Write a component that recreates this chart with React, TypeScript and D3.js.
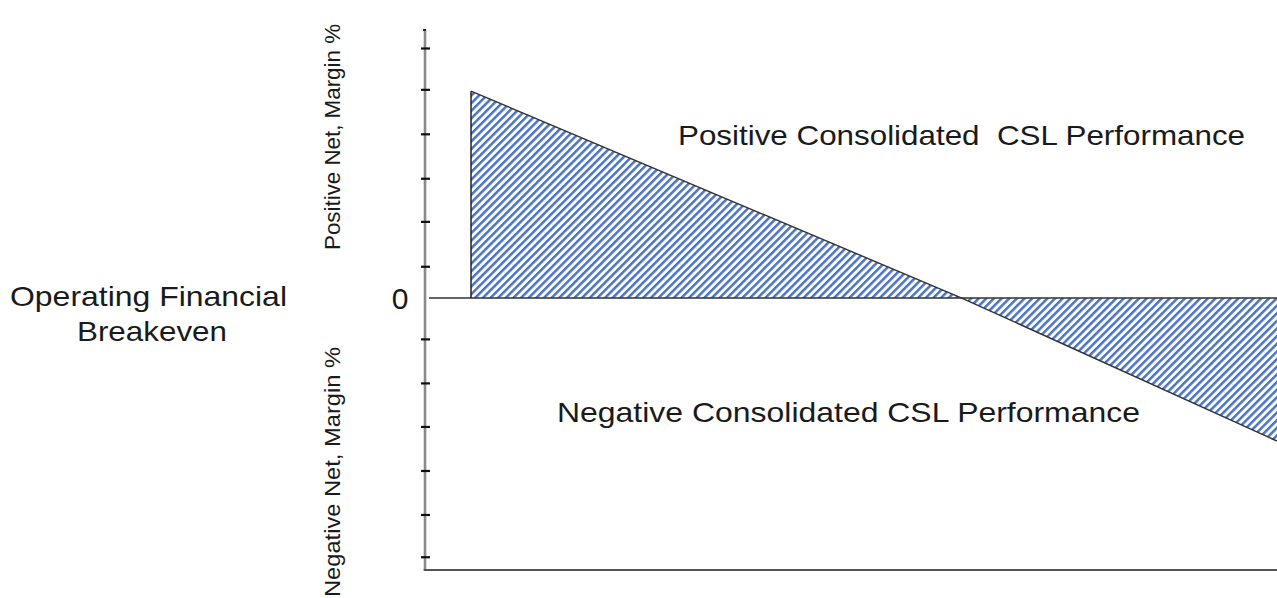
import React from "react";
import * as d3 from "d3";

// Profit margin line (x: volume %, y: net margin %)
const lineX = [5.4, 63.0, 100];
const lineY = [4.7, 0, -3.25];

// Y axis tick values (margin %)
const posTicks = [0.71, 1.73, 2.71, 3.72, 4.73, 5.67];
const negTicks = [-0.94, -1.94, -2.93, -3.93, -4.93, -5.89];
const zeroLabel = "0";

const labels = {
  positive: "Positive Consolidated  CSL Performance",
  negative: "Negative Consolidated CSL Performance",
  left1: "Operating Financial",
  left2: "Breakeven",
  yPos: "Positive Net, Margin %",
  yNeg: "Negative Net, Margin %",
};

const W = 1277;
const H = 598;
const FONT = "'Liberation Sans', Arial, sans-serif";

export default function App() {
  const x = d3.scaleLinear().domain([0, 100]).range([425, 1277]);
  const y = d3.scaleLinear().domain([-6.18, 6.09]).range([570, 30]);
  const pts = lineX.map((v, i) => ({ x: v, y: lineY[i] }));

  const area = d3
    .area<{ x: number; y: number }>()
    .x((d) => x(d.x))
    .y0(y(0))
    .y1((d) => y(d.y));
  const line = d3
    .line<{ x: number; y: number }>()
    .x((d) => x(d.x))
    .y((d) => y(d.y));

  const textColor = "#1a1a1a";
  const pre = { whiteSpace: "pre" as const };

  return (
    <div>
      <svg
        width={W}
        height={H}
        style={{ position: "absolute", left: 0, top: 0, background: "#fff" }}
        fontFamily={FONT}
      >
        <defs>
          <pattern
            id="hatch"
            patternUnits="userSpaceOnUse"
            width={5.4}
            height={5.4}
            patternTransform="rotate(45)"
          >
            <rect x={0} y={0} width={5.4} height={5.4} fill="#fff" />
            <rect x={0} y={0} width={2.5} height={5.4} fill="#4a74c4" />
          </pattern>
        </defs>

        {/* hatched area */}
        <path d={area(pts) || ""} fill="url(#hatch)" />

        {/* zero line */}
        <line x1={x(0) + 4} x2={W} y1={y(0)} y2={y(0)} stroke="#333" strokeWidth={1.6} />

        {/* outline of margin line */}
        <line
          x1={x(lineX[0])}
          x2={x(lineX[0])}
          y1={y(0)}
          y2={y(lineY[0])}
          stroke="#222"
          strokeWidth={1.5}
        />
        <path d={line(pts) || ""} fill="none" stroke="#333" strokeWidth={1.4} />

        {/* y axis */}
        <line x1={x(0)} x2={x(0)} y1={y(6.09)} y2={570} stroke="#8a8a8a" strokeWidth={2.6} />
        <line x1={x(0) - 2} x2={x(0) + 1} y1={y(6.09)} y2={y(6.09)} stroke="#222" strokeWidth={2} />
        {[...posTicks, ...negTicks].map((t, i) => (
          <line
            key={i}
            x1={x(0) - 4}
            x2={x(0) + 5}
            y1={y(t)}
            y2={y(t)}
            stroke="#111"
            strokeWidth={2.2}
          />
        ))}
        {/* bottom axis */}
        <line x1={x(0) - 1.3} x2={W} y1={570} y2={570} stroke="#555" strokeWidth={2.2} />

        {/* labels */}
        <text x={400} y={309} fontSize={30} textAnchor="middle" fill={textColor}>
          {zeroLabel}
        </text>
        <text
          x={10}
          y={306}
          fontSize={28}
          fill={textColor}
          textLength={277}
          lengthAdjust="spacingAndGlyphs"
          style={pre}
        >
          {labels.left1}
        </text>
        <text
          x={77}
          y={341}
          fontSize={28}
          fill={textColor}
          textLength={150}
          lengthAdjust="spacingAndGlyphs"
        >
          {labels.left2}
        </text>
        <text
          x={678}
          y={145}
          fontSize={28}
          fill={textColor}
          textLength={567}
          lengthAdjust="spacingAndGlyphs"
          style={pre}
        >
          {labels.positive}
        </text>
        <text
          x={557}
          y={422}
          fontSize={28}
          fill={textColor}
          textLength={583}
          lengthAdjust="spacingAndGlyphs"
        >
          {labels.negative}
        </text>
        <text
          transform={`translate(340,250) rotate(-90)`}
          fontSize={22}
          fill={textColor}
          textLength={226}
          lengthAdjust="spacingAndGlyphs"
        >
          {labels.yPos}
        </text>
        <text
          transform={`translate(340,597) rotate(-90)`}
          fontSize={22}
          fill={textColor}
          textLength={250}
          lengthAdjust="spacingAndGlyphs"
        >
          {labels.yNeg}
        </text>
      </svg>
    </div>
  );
}
